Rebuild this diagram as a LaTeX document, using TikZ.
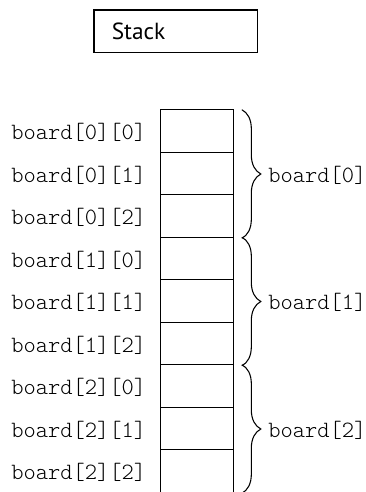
\documentclass[tikz,border=0pt]{standalone}
\usepackage{fontspec}
\setmainfont{PT Sans}
\setmonofont{Latin Modern Mono Light}
\usetikzlibrary{positioning,decorations.pathreplacing}
\begin{document}
\begin{tikzpicture}[x=0.75pt,y=-0.75pt,line width=0.8pt,
		cell/.style={minimum width=54pt,minimum height=31.875pt,inner sep=0pt},
		lbl/.style={font=\ttfamily\fontsize{17.5}{20}\selectfont,inner sep=0pt,yshift=-1pt},
		stackbox/.style={draw,font=\fontsize{17.5}{20}\selectfont,minimum width=122.6pt,minimum height=31.9pt,text width=96pt,inner xsep=13pt,align=left},
		brc/.style={decorate,decoration={brace,amplitude=14.25pt}}]
	\useasboundingbox (0,0) rectangle (366,492);
	\node[stackbox] (stack) at (175.75,31.25) {Stack};
	% cells of board, row by row
	\foreach \r in {0,1,2}
		\foreach \c in {0,1,2}{
			\pgfmathtruncatemacro\k{3*\r+\c}
			\node[cell] (c\k) at (197.3,{131.5+42.5*\k}) {};
			\node[lbl,left=10.5pt of c\k] (l\k) {board[\r][\c]};
		}
	\draw (c8.south west) -- (c0.north west) -- (c0.north east) -- (c8.south east);
	\foreach \k in {1,...,8}
		\draw (c\k.north west) -- (c\k.north east);
	% one brace for each row
	\foreach \r/\a/\b in {0/0/2,1/3/5,2/6/8}{
		\coordinate (t\r) at ([xshift=6pt]c\a.north east);
		\coordinate (u\r) at ([xshift=6pt]c\b.south east);
		\draw[brc] (t\r) -- node[lbl,right=19.5pt] (g\r) {board[\r]} (u\r);
	}
\end{tikzpicture}
\end{document}
